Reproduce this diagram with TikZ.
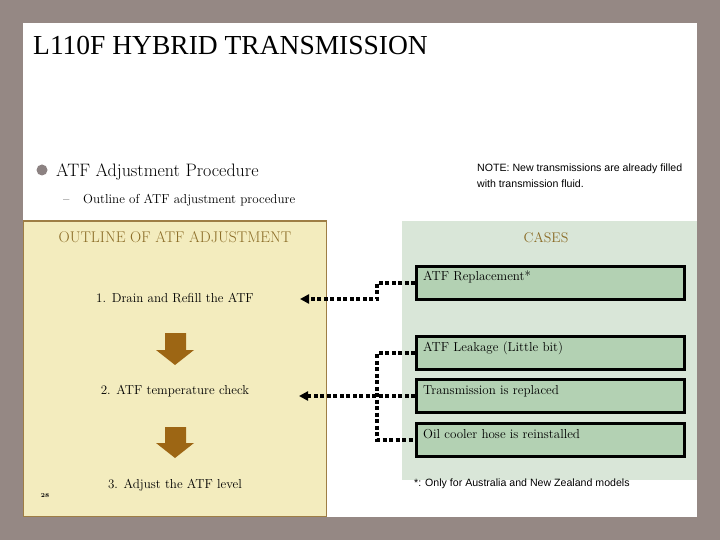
\documentclass[tikz,border=0pt]{standalone}
\usepackage{fontspec}
\newfontfamily\titlefont{Liberation Serif}
\newfontfamily\notefont{Liberation Sans}
\usetikzlibrary{arrows.meta}
\definecolor{bgray}{HTML}{958884}
\definecolor{ylwfill}{HTML}{F3ECBE}
\definecolor{ylwbord}{HTML}{9E7E45}
\definecolor{grnreg}{HTML}{D9E6D8}
\definecolor{grnbox}{HTML}{B3D1B3}
\definecolor{brownarr}{HTML}{9D6614}
\definecolor{hdrbrown}{HTML}{8A6B25}
\definecolor{bulletgray}{HTML}{8C8282}
\tikzset{
  casebox/.style={draw=black, fill=grnbox, line width=3pt, minimum width=268pt, minimum height=33pt, inner sep=0pt},
  casetext/.style={font=\fontsize{13}{15}\selectfont, inner sep=0pt, anchor=west},
  steptext/.style={font=\fontsize{13}{15}\selectfont, inner sep=0pt},
  hdrtext/.style={text=hdrbrown, inner sep=0pt},
  notetext/.style={font=\notefont\fontsize{10.6}{16}\selectfont, inner sep=0pt, align=left},
  dotline/.style={line width=4pt, dash pattern=on 4pt off 2.5pt},
  dotarrow/.style={dotline, -{Triangle[length=9pt,width=9pt]}},
  downarrow/.style={fill=brownarr}
}
\begin{document}
\begin{tikzpicture}[x=1pt,y=-1pt]
\useasboundingbox (0,0) rectangle (720,540);
\fill[bgray] (0,0) rectangle (720,540);
\fill[white] (23,23) rectangle (697,517);
% title
\node[font=\titlefont\fontsize{27.5}{30}\selectfont, anchor=base west, inner sep=0pt] (title) at (33,55) {L110F HYBRID TRANSMISSION};
% bullet
\fill[bulletgray] (42,170) circle (5.5);
\node[font=\fontsize{18}{20}\selectfont, anchor=base west, inner sep=0pt] (b1) at (56,177) {ATF Adjustment Procedure};
\node[font=\fontsize{13}{15}\selectfont, anchor=base west, inner sep=0pt] (b2dash) at (63,204) {--};
\node[font=\fontsize{13}{15}\selectfont, anchor=base west, inner sep=0pt] (b2) at (83,204) {Outline of ATF adjustment procedure};
% note
\node[notetext, anchor=west] (note) at (477,176) {NOTE: New transmissions are already filled\\with transmission fluid.};
% panels
\draw[fill=ylwfill, draw=ylwbord, line width=1.2pt] (23.6,221) rectangle (326.4,516.4);
\fill[grnreg] (402,221) rectangle (697,480);
\node[hdrtext, font=\fontsize{15.5}{17}\selectfont] (hdr1) at (175,237) {OUTLINE OF ATF ADJUSTMENT};
\node[hdrtext, font=\fontsize{14}{17}\selectfont] (hdr2) at (546,238) {CASES};
% steps
\node[steptext] (s1) at (175,298) {1. Drain and Refill the ATF};
\node[steptext] (s2) at (175,391) {2. ATF temperature check};
\node[steptext] (s3) at (175,485) {3. Adjust the ATF level};
\node[font=\bfseries\fontsize{6}{7}\selectfont, inner sep=0pt] (pg) at (45,496) {28};
% brown arrows
\fill[downarrow] (165,333) -- (186,333) -- (186,350) -- (194,350) -- (175,365) -- (156,350) -- (165,350) -- cycle;
\fill[downarrow] (165,427) -- (186,427) -- (186,443) -- (194,443) -- (175,458) -- (156,443) -- (165,443) -- cycle;
% case boxes
\node[casebox] (c1) at (550.5,282.5) {};
\node[casebox] (c2) at (550.5,353) {};
\node[casebox] (c3) at (550.5,396) {};
\node[casebox] (c4) at (550.5,439.5) {};
\node[casetext] (c1t) at ([shift={(8,-6)}]c1.west) {ATF Replacement*};
\node[casetext] (c2t) at ([shift={(8,-5)}]c2.west) {ATF Leakage (Little bit)};
\node[casetext] (c3t) at ([shift={(8,-5)}]c3.west) {Transmission is replaced};
\node[casetext] (c4t) at ([shift={(8,-5)}]c4.west) {Oil cooler hose is reinstalled};
% footnote
\node[notetext, anchor=west] (foot) at (414,484) {*: Only for Australia and New Zealand models};
% connectors
\coordinate (t1) at (300,299);
\coordinate (t2) at (299,396);
\draw[dotarrow] (c1.west) -- ++(-38,0) |- (t1);
\draw[dotarrow] (c3.west) -- (t2);
\draw[dotline] (c2.west) -- ++(-38,0) |- (c4.west);
\end{tikzpicture}
\end{document}
